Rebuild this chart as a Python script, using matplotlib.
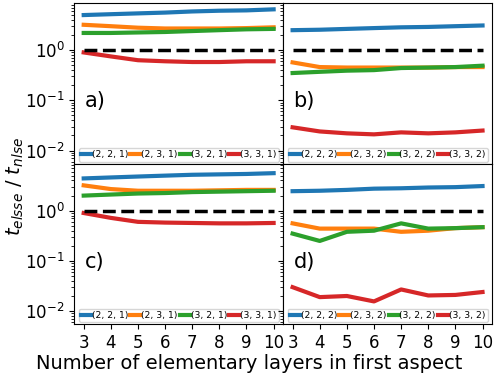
import numpy as np
import matplotlib.pyplot as plt

layers = [3, 4, 5, 6, 7, 8, 9, 10]

labels_1 = ['(2, 2, 1)', '(2, 3, 1)', '(3, 2, 1)', '(3, 3, 1)']
labels_2 = ['(2, 2, 2)', '(2, 3, 2)', '(3, 2, 2)', '(3, 3, 2)']

# panel a
a_221 = [5.0, 5.2, 5.4, 5.6, 5.9, 6.1, 6.2, 6.5]
a_231 = [3.2, 3.0, 2.8, 2.7, 2.7, 2.7, 2.75, 2.85]
a_321 = [2.2, 2.2, 2.25, 2.3, 2.4, 2.5, 2.6, 2.65]
a_331 = [0.9, 0.75, 0.63, 0.6, 0.58, 0.58, 0.6, 0.6]

# panel b
b_222 = [2.5, 2.55, 2.65, 2.75, 2.85, 2.9, 3.0, 3.1]
b_232 = [0.57, 0.46, 0.45, 0.45, 0.45, 0.45, 0.46, 0.46]
b_322 = [0.35, 0.37, 0.39, 0.40, 0.44, 0.45, 0.46, 0.49]
b_332 = [0.029, 0.024, 0.022, 0.021, 0.023, 0.022, 0.023, 0.025]

# panel c
c_221 = [4.4, 4.6, 4.8, 5.0, 5.2, 5.3, 5.4, 5.6]
c_231 = [3.2, 2.7, 2.5, 2.5, 2.5, 2.55, 2.6, 2.6]
c_321 = [2.0, 2.1, 2.2, 2.25, 2.35, 2.4, 2.45, 2.5]
c_331 = [0.9, 0.72, 0.6, 0.58, 0.57, 0.56, 0.56, 0.57]

# panel d
d_222 = [2.45, 2.5, 2.6, 2.75, 2.8, 2.9, 2.95, 3.1]
d_232 = [0.56, 0.44, 0.44, 0.44, 0.38, 0.40, 0.45, 0.47]
d_322 = [0.35, 0.25, 0.38, 0.40, 0.56, 0.44, 0.45, 0.47]
d_332 = [0.030, 0.019, 0.020, 0.0156, 0.027, 0.0205, 0.021, 0.024]

panels = [
    ('a)', labels_1, [a_221, a_231, a_321, a_331]),
    ('b)', labels_2, [b_222, b_232, b_322, b_332]),
    ('c)', labels_1, [c_221, c_231, c_321, c_331]),
    ('d)', labels_2, [d_222, d_232, d_322, d_332]),
]

fig, axs = plt.subplots(2, 2, sharex=True, sharey=True, figsize=(4.98, 3.73), dpi=100)
fig.subplots_adjust(left=0.149, right=0.988, top=0.992, bottom=0.131, wspace=0, hspace=0)

for ax, (tag, labels, series) in zip(axs.flat, panels):
    for lab, ys in zip(labels, series):
        ax.plot(layers, ys, lw=3, label=lab)
    ax.plot(layers, np.ones(len(layers)), color='black', lw=2.5, ls='--')
    ax.set_yscale('log')
    ax.text(0.05, 0.39, tag, transform=ax.transAxes, fontsize=15, va='center')
    ax.legend(loc='lower center', ncol=4, fontsize=6.7, handlelength=1.05,
              handletextpad=0.1, columnspacing=0.25, borderpad=0.25,
              borderaxespad=0.2)
    ax.tick_params(labelsize=12)

axs[0, 0].set_ylim(0.0055, 8.7)
axs[0, 0].set_xticks(layers)
fig.supylabel(r'$t_{elsse}$ / $t_{nlse}$', fontsize=14, x=0.01)
fig.supxlabel('Number of elementary layers in first aspect', fontsize=14, y=0.0)

fig.savefig('out.png', dpi=100)
